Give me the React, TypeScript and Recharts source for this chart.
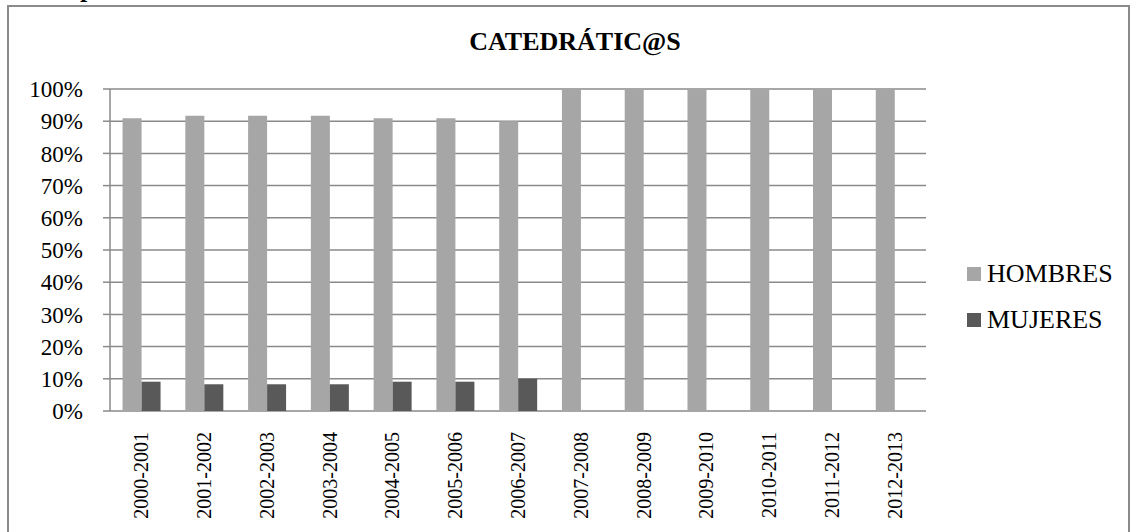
import { BarChart, Bar, XAxis, YAxis, CartesianGrid, Legend } from "recharts";

const categories = [
  "2000-2001", "2001-2002", "2002-2003", "2003-2004", "2004-2005", "2005-2006", "2006-2007",
  "2007-2008", "2008-2009", "2009-2010", "2010-2011", "2011-2012", "2012-2013",
];
const hombres = [90.9, 91.7, 91.7, 91.7, 90.9, 90.9, 90, 100, 100, 100, 100, 100, 100];
const mujeres = [9.1, 8.3, 8.3, 8.3, 9.1, 9.1, 10, 0, 0, 0, 0, 0, 0];
const yTicks = [0, 10, 20, 30, 40, 50, 60, 70, 80, 90, 100];
const edgeTicks = [0, 1, 2, 3, 4, 5, 6, 7, 8, 9, 10, 11, 12, 13];

const SERIF = '"Liberation Serif", "Times New Roman", serif';
const LINE = "#8a8a8a";
const LEGEND_W = 165;

const data = categories.map((c, i) => ({ periodo: c, HOMBRES: hombres[i], MUJERES: mujeres[i] }));

function XTick(props: any) {
  const { x, y, payload } = props;
  return (
    <g transform={`translate(${x},${y})`}>
      <text
        transform="rotate(-90)"
        x={-13}
        y={0}
        textAnchor="end"
        dominantBaseline="central"
        fontFamily={SERIF}
        fontSize={20}
        fill="#000"
      >
        {payload.value}
      </text>
    </g>
  );
}

function LegendBox(props: any) {
  const items = props.payload || [];
  return (
    <div style={{ fontFamily: SERIF, fontSize: 26, color: "#000" }}>
      {items.map((it: any) => (
        <div key={it.value} style={{ display: "flex", alignItems: "center", height: 46, lineHeight: "46px" }}>
          <span style={{ display: "inline-block", width: 14, height: 14, background: it.color, marginRight: 6 }} />
          <span>{it.value}</span>
        </div>
      ))}
    </div>
  );
}

export default function App() {
  return (
    <div style={{ position: "fixed", left: 0, top: 0, width: 1134, height: 532, overflow: "hidden", background: "#fff" }}>
      <div
        style={{
          position: "absolute", left: 80, top: -24, fontFamily: SERIF, fontWeight: "bold",
          fontSize: 26, lineHeight: "26px", color: "#000",
        }}
      >
        p
      </div>
      <div
        style={{
          position: "absolute", left: 7, top: 5, width: 1123, height: 600,
          border: `2px solid ${LINE}`, boxSizing: "border-box",
        }}
      />
      <div
        style={{
          position: "absolute", left: 375, top: 29, width: 400, textAlign: "center",
          fontFamily: SERIF, fontWeight: "bold", fontSize: 26, lineHeight: "26px", color: "#000",
        }}
      >
        CATEDRÁTIC@S
      </div>
      <div style={{ position: "absolute", left: 0, top: 0 }}>
        {/* the legend box width is taken off the plot on the right, so margin.right = 208 - LEGEND_W */}
        <BarChart
          width={1134}
          height={532}
          data={data}
          margin={{ top: 89, right: 208 - LEGEND_W, bottom: 0, left: 0 }}
          barCategoryGap="20%"
          barGap={0}
        >
          <CartesianGrid xAxisId="cat" yAxisId="y" vertical={false} stroke={LINE} strokeWidth={1.5} />
          <XAxis
            xAxisId="edge"
            type="number"
            domain={[0, categories.length]}
            ticks={edgeTicks}
            height={0}
            tick={false}
            tickSize={6}
            axisLine={{ stroke: LINE, strokeWidth: 1.5 }}
            tickLine={{ stroke: LINE, strokeWidth: 1.5 }}
            allowDataOverflow
          />
          <XAxis
            xAxisId="cat"
            dataKey="periodo"
            height={121}
            interval={0}
            axisLine={false}
            tickLine={false}
            tick={<XTick />}
          />
          <YAxis
            yAxisId="y"
            width={110}
            domain={[0, 100]}
            ticks={yTicks}
            tickFormatter={(v: number) => `${v}%`}
            tickSize={7}
            tickMargin={20}
            axisLine={{ stroke: LINE, strokeWidth: 1.5 }}
            tickLine={{ stroke: LINE, strokeWidth: 1.5 }}
            tick={{ fontFamily: SERIF, fontSize: 23, fill: "#000" }}
          />
          <Legend
            layout="horizontal"
            verticalAlign="middle"
            align="right"
            content={<LegendBox />}
            wrapperStyle={{ left: 967, top: 251, width: LEGEND_W }}
          />
          <Bar xAxisId="cat" yAxisId="y" dataKey="HOMBRES" fill="#a6a6a6" isAnimationActive={false} />
          <Bar xAxisId="cat" yAxisId="y" dataKey="MUJERES" fill="#595959" isAnimationActive={false} />
        </BarChart>
      </div>
    </div>
  );
}
